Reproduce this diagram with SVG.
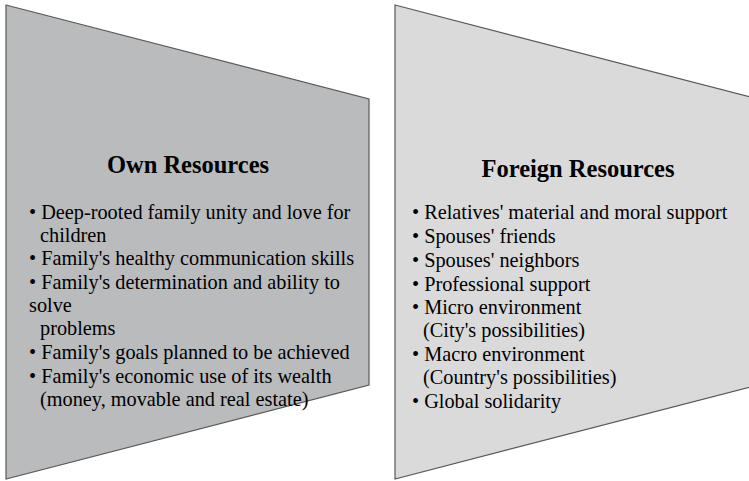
<svg xmlns="http://www.w3.org/2000/svg" width="749" height="481" viewBox="0 0 749 481">
<style>
.shape{stroke:#595959;stroke-width:1.2}
.t{font-family:"Liberation Serif","Times New Roman",serif;font-size:20.3px;fill:#000}
.h{font-family:"Liberation Serif","Times New Roman",serif;font-size:24.5px;font-weight:bold;fill:#000;text-anchor:middle}
</style>
<rect width="749" height="481" fill="#fff"/>
<g id="own">
<polygon class="shape" points="6,5 369,99 369,385 6,479" fill="#b9bbbc"/>
<text class="h" x="188" y="173">Own Resources</text>
<text class="t" x="29" y="219">• Deep-rooted family unity and love for</text>
<text class="t" x="40" y="242">children</text>
<text class="t" x="29" y="265">• Family's healthy communication skills</text>
<text class="t" x="29" y="289">• Family's determination and ability to</text>
<text class="t" x="29" y="312">solve</text>
<text class="t" x="40" y="335">problems</text>
<text class="t" x="29" y="359">• Family's goals planned to be achieved</text>
<text class="t" x="29" y="383">• Family's economic use of its wealth</text>
<text class="t" x="40" y="406">(money, movable and real estate)</text>
</g>
<g id="foreign">
<polygon class="shape" points="395,5 758,99 758,385 395,479" fill="#dadada"/>
<text class="h" x="578" y="177">Foreign Resources</text>
<text class="t" x="412" y="219">• Relatives' material and moral support</text>
<text class="t" x="412" y="243">• Spouses' friends</text>
<text class="t" x="412" y="267">• Spouses' neighbors</text>
<text class="t" x="412" y="291">• Professional support</text>
<text class="t" x="412" y="314">• Micro environment</text>
<text class="t" x="423" y="337">(City's possibilities)</text>
<text class="t" x="412" y="361">• Macro environment</text>
<text class="t" x="423" y="384">(Country's possibilities)</text>
<text class="t" x="412" y="408">• Global solidarity</text>
</g>
<g id="connectors"/>
</svg>
